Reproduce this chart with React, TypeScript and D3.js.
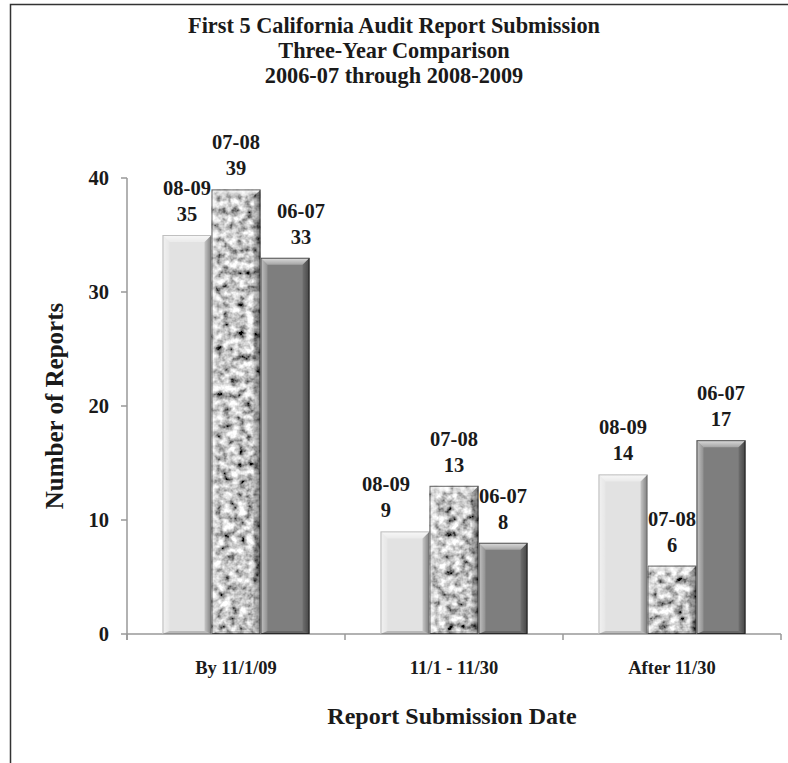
import React from "react";
import * as d3 from "d3";

const categories = ["By 11/1/09", "11/1 - 11/30", "After 11/30"];
const seriesNames = ["08-09", "07-08", "06-07"];
const values0809 = [35, 9, 14];
const values0708 = [39, 13, 6];
const values0607 = [33, 8, 17];
const yTicks = [0, 10, 20, 30, 40];
const titleLines = [
  "First 5 California Audit Report Submission",
  "Three-Year Comparison",
  "2006-07 through 2008-2009",
];
// label horizontal nudges (per category, per series), style only
const labelNudge = [
  [0, 0, 16],
  [-19, 0, 0],
  [0, 0, 0],
];

const W = 788;
const H = 763;
const FONT = "'Liberation Serif', 'Times New Roman', serif";

export default function App() {
  const seriesValues = [values0809, values0708, values0607];
  const x = d3.scaleBand<string>().domain(categories).range([127, 781]).paddingInner(0).paddingOuter(0);
  const xi = d3.scaleBand<string>().domain(seriesNames).range([0, x.bandwidth()]).paddingInner(0).paddingOuter(0.724);
  const y = d3.scaleLinear().domain([0, 40]).range([634, 178]);
  const bw = xi.bandwidth();
  const baseFill = ["#e2e2e2", "#999", "#7e7e7e"];

  const bars: any[] = [];
  categories.forEach((c, ci) => {
    seriesNames.forEach((s, si) => {
      const v = seriesValues[si][ci];
      const x0 = (x(c) as number) + (xi(s) as number);
      const y0 = y(v);
      const y1 = y(0);
      const b = 7; // bevel
      const h = y1 - y0;
      bars.push(
        <g key={c + s}>
          {si === 1 ? (
            <rect x={x0} y={y0} width={bw} height={h} fill="#999" filter="url(#graniteFilter)" />
          ) : (
            <rect x={x0} y={y0} width={bw} height={h} fill={baseFill[si]} />
          )}
          <polygon
            points={`${x0},${y0} ${x0 + b},${y0 + b} ${x0 + b},${y1 - 3} ${x0},${y1}`}
            fill="url(#leftBevel)"
          />
          <polygon
            points={`${x0 + bw},${y0} ${x0 + bw - b},${y0 + b} ${x0 + bw - b},${y1 - 3} ${x0 + bw},${y1}`}
            fill="url(#rightBevel)"
          />
          <polygon
            points={`${x0},${y0} ${x0 + bw},${y0} ${x0 + bw - b},${y0 + b} ${x0 + b},${y0 + b}`}
            fill="url(#topBevel)"
          />
          <polygon
            points={`${x0},${y1} ${x0 + bw},${y1} ${x0 + bw - b},${y1 - 3} ${x0 + b},${y1 - 3}`}
            fill="rgba(0,0,0,0.18)"
          />
          <rect
            x={x0 + 0.5}
            y={y0 + 0.5}
            width={bw - 1}
            height={h - 1}
            fill="none"
            stroke={si === 0 ? "rgba(0,0,0,0.22)" : "rgba(0,0,0,0.6)"}
            strokeWidth={1}
          />
          <text
            x={x0 + bw / 2 + labelNudge[ci][si]}
            y={y0 - 40}
            textAnchor="middle"
            fontSize={20.5}
            fontWeight="bold"
            fill="#1a1a1a"
          >
            {s}
          </text>
          <text
            x={x0 + bw / 2 + labelNudge[ci][si]}
            y={y0 - 14}
            textAnchor="middle"
            fontSize={20.5}
            fontWeight="bold"
            fill="#1a1a1a"
          >
            {v}
          </text>
        </g>
      );
    });
  });

  const x0Axis = 127;
  const boundaries = [127, ...categories.map((c) => (x(c) as number) + x.bandwidth())];

  return (
    <svg
      width={W}
      height={H}
      style={{ position: "absolute", left: 0, top: 0, background: "#fff" }}
      fontFamily={FONT}
    >
      <defs>
        <filter id="graniteFilter" x="0" y="0" width="100%" height="100%">
          <feTurbulence type="fractalNoise" baseFrequency="0.13" numOctaves={3} seed={11} result="noise" />
          <feColorMatrix
            in="noise"
            type="matrix"
            values="1.8 0 0 0 -0.33  1.8 0 0 0 -0.33  1.8 0 0 0 -0.33  0 0 0 0 1"
            result="gray"
          />
          <feComposite in="gray" in2="SourceGraphic" operator="in" />
        </filter>
        <linearGradient id="leftBevel" x1="0" x2="1" y1="0" y2="0">
          <stop offset="0" stopColor="#fff" stopOpacity={0.55} />
          <stop offset="1" stopColor="#fff" stopOpacity={0.15} />
        </linearGradient>
        <linearGradient id="rightBevel" x1="0" x2="1" y1="0" y2="0">
          <stop offset="0" stopColor="#000" stopOpacity={0.12} />
          <stop offset="1" stopColor="#000" stopOpacity={0.45} />
        </linearGradient>
        <linearGradient id="topBevel" x1="0" x2="0" y1="0" y2="1">
          <stop offset="0" stopColor="#fff" stopOpacity={0.75} />
          <stop offset="1" stopColor="#fff" stopOpacity={0.3} />
        </linearGradient>
      </defs>

      <rect x={10.5} y={4.5} width={W + 20} height={H + 20} fill="none" stroke="#333" strokeWidth={1.5} />

      {titleLines.map((t, i) => (
        <text
          key={t}
          x={394}
          y={33 + i * 25}
          textAnchor="middle"
          fontSize={22.3}
          fontWeight="bold"
          fill="#1a1a1a"
        >
          {t}
        </text>
      ))}

      <line x1={x0Axis} x2={x0Axis} y1={y(40)} y2={y(0) + 6} stroke="#999" strokeWidth={1.5} />
      {yTicks.map((t) => (
        <g key={t}>
          <line x1={x0Axis - 6} x2={x0Axis} y1={y(t)} y2={y(t)} stroke="#999" strokeWidth={1.5} />
          <text x={109} y={y(t) + 7} textAnchor="end" fontSize={20.5} fontWeight="bold" fill="#1a1a1a">
            {t}
          </text>
        </g>
      ))}

      <line x1={x0Axis} x2={781} y1={y(0)} y2={y(0)} stroke="#999" strokeWidth={1.5} />
      {boundaries.map((bx, i) => (
        <line key={i} x1={bx} x2={bx} y1={y(0)} y2={y(0) + 6} stroke="#999" strokeWidth={1.5} />
      ))}

      {bars}

      {categories.map((c) => (
        <text
          key={c}
          x={(x(c) as number) + x.bandwidth() / 2}
          y={674}
          textAnchor="middle"
          fontSize={18.5}
          fontWeight="bold"
          fill="#1a1a1a"
        >
          {c}
        </text>
      ))}

      <text x={452} y={724} textAnchor="middle" fontSize={24} fontWeight="bold" fill="#1a1a1a">
        Report Submission Date
      </text>
      <text
        transform={`translate(63, 406) rotate(-90)`}
        textAnchor="middle"
        fontSize={25}
        fontWeight="bold"
        fill="#1a1a1a"
      >
        Number of Reports
      </text>
    </svg>
  );
}
